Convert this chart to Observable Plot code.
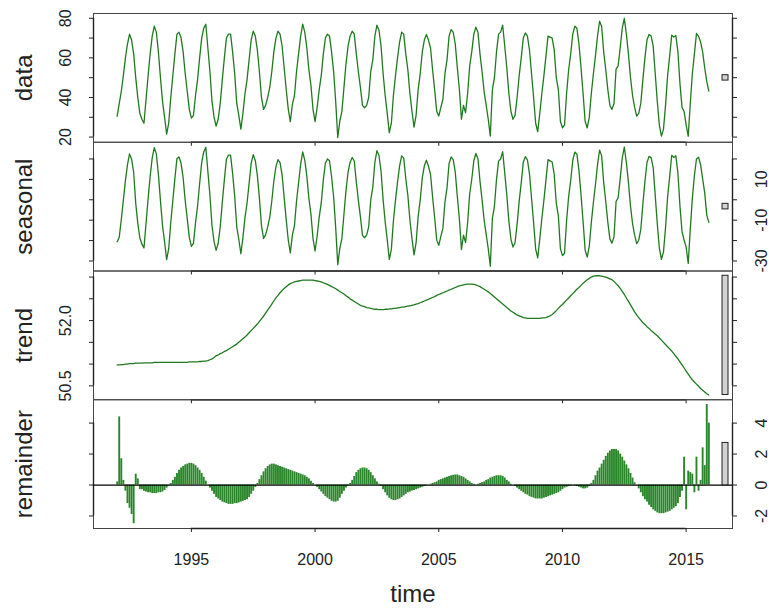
<!DOCTYPE html>
<html><head><meta charset="utf-8">
<script src="https://cdn.jsdelivr.net/npm/d3@7"></script>
<script src="https://cdn.jsdelivr.net/npm/@observablehq/plot@0.6"></script>
<style>
html,body{margin:0;padding:0;background:#fff;}
#chart{position:relative;width:769px;height:608px;overflow:hidden;background:#fff;}
#chart svg{position:absolute;left:0;top:0;}
</style></head><body><div id="chart"></div>
<script>
// monthly series, Jan 1992 .. Dec 2015 (one row per year)
const startYear = 1992;
const dataValues = [
  30.6, 37, 43, 51, 60, 67, 72, 69, 62, 50, 40, 32,
  29, 27, 39, 51, 62, 71, 76, 73, 63, 50, 38, 30,
  21.5, 27, 40, 51, 62, 72, 73, 70, 63, 52, 43, 34,
  29.6, 31, 41, 49, 60, 70, 75, 77, 65, 53, 38, 30,
  25.6, 29, 37, 49, 60, 70, 72, 72, 63, 52, 37, 31,
  24, 32, 42, 49, 59, 69, 73.5, 71, 64, 53, 40, 34,
  36, 40, 45, 53, 63, 70, 73.5, 72, 66, 55, 44, 34,
  27.8, 36.6, 41, 53, 62, 71, 77, 73, 65, 54, 46, 34,
  27.8, 35, 44, 51, 62, 70, 72, 71, 63, 53, 38, 19.8,
  28, 33, 45, 57, 66, 71, 73.5, 72, 62, 53, 45, 36,
  34.8, 36, 40, 53, 59, 71, 76.5, 74, 66, 52, 41, 32,
  22.2, 27, 41, 51, 60, 68, 73, 72, 62, 54, 42, 33,
  25, 31, 44, 52, 63, 69, 71.8, 69, 65, 54, 44, 33,
  30.6, 35, 39, 52, 59, 71, 74.3, 73, 67, 55, 44, 29,
  36, 32.3, 42, 56, 63, 72, 75.5, 73, 62, 53, 43, 36,
  29, 20.5, 44, 50, 63, 72, 73, 76.5, 66, 55, 42, 33,
  29, 31, 40, 51, 60, 70, 72.6, 71, 64, 52, 40, 27,
  22.7, 32, 42, 51, 61, 71, 70.5, 70, 64, 50, 44, 28,
  24.7, 26, 42, 54, 62, 72, 76, 75, 67, 55, 42, 28,
  24.6, 30, 42, 52, 61, 71, 78.5, 76, 63, 54, 44, 36,
  34, 37, 54.3, 56, 65, 75, 80, 72, 62, 50, 41, 35,
  30.6, 32, 37, 49, 60, 69, 71.8, 71, 66, 52, 38, 26,
  20.5, 24, 36, 51, 61, 71.5, 70.5, 71.3, 63, 47, 35, 33,
  26, 20.5, 37, 52, 62, 72.3, 71, 68, 63, 55, 48, 43.2
];
const trendValues = [
  50.98, 50.98, 50.99, 50.99, 51.00, 51.00, 51.01, 51.01, 51.01, 51.02, 51.02, 51.02,
  51.02, 51.03, 51.03, 51.03, 51.03, 51.03, 51.04, 51.04, 51.04, 51.04, 51.04, 51.04,
  51.04, 51.04, 51.04, 51.04, 51.04, 51.04, 51.04, 51.04, 51.04, 51.04, 51.04, 51.05,
  51.05, 51.05, 51.05, 51.05, 51.06, 51.06, 51.07, 51.07, 51.08, 51.10, 51.12, 51.15,
  51.19, 51.21, 51.24, 51.26, 51.29, 51.31, 51.34, 51.37, 51.40, 51.43, 51.46, 51.50,
  51.54, 51.58, 51.62, 51.67, 51.72, 51.77, 51.82, 51.87, 51.92, 51.98, 52.04, 52.10,
  52.17, 52.24, 52.31, 52.38, 52.45, 52.52, 52.58, 52.64, 52.69, 52.74, 52.78, 52.82,
  52.85, 52.87, 52.89, 52.90, 52.91, 52.92, 52.93, 52.93, 52.93, 52.93, 52.93, 52.93,
  52.92, 52.91, 52.90, 52.89, 52.87, 52.85, 52.83, 52.81, 52.78, 52.76, 52.73, 52.70,
  52.67, 52.64, 52.61, 52.57, 52.54, 52.50, 52.47, 52.44, 52.41, 52.38, 52.35, 52.33,
  52.32, 52.30, 52.29, 52.28, 52.27, 52.26, 52.26, 52.25, 52.25, 52.25, 52.26, 52.26,
  52.27, 52.27, 52.28, 52.28, 52.29, 52.30, 52.31, 52.31, 52.32, 52.33, 52.34, 52.35,
  52.36, 52.38, 52.39, 52.41, 52.43, 52.45, 52.47, 52.49, 52.51, 52.53, 52.55, 52.58,
  52.60, 52.62, 52.64, 52.66, 52.68, 52.70, 52.72, 52.74, 52.76, 52.78, 52.80, 52.81,
  52.82, 52.83, 52.84, 52.84, 52.84, 52.83, 52.82, 52.80, 52.78, 52.75, 52.72, 52.69,
  52.66, 52.62, 52.58, 52.54, 52.50, 52.46, 52.42, 52.38, 52.34, 52.30, 52.26, 52.22,
  52.19, 52.16, 52.13, 52.11, 52.09, 52.07, 52.06, 52.05, 52.05, 52.05, 52.05, 52.05,
  52.05, 52.05, 52.06, 52.06, 52.07, 52.09, 52.11, 52.14, 52.18, 52.23, 52.28, 52.33,
  52.37, 52.42, 52.47, 52.52, 52.57, 52.62, 52.67, 52.72, 52.76, 52.81, 52.86, 52.90,
  52.94, 52.97, 53.00, 53.02, 53.03, 53.03, 53.03, 53.02, 53.01, 53.00, 52.98, 52.96,
  52.94, 52.90, 52.85, 52.80, 52.74, 52.67, 52.60, 52.52, 52.44, 52.36, 52.28, 52.20,
  52.13, 52.07, 52.01, 51.95, 51.91, 51.86, 51.82, 51.77, 51.73, 51.69, 51.65, 51.60,
  51.55, 51.50, 51.45, 51.40, 51.35, 51.30, 51.24, 51.18, 51.12, 51.05, 50.98, 50.91,
  50.84, 50.77, 50.70, 50.64, 50.59, 50.54, 50.49, 50.44, 50.40, 50.36, 50.32, 50.29
];
const remainderValues = [
  0.2, 4.4, 1.7, 0.3, -0.4, -1.2, -1.5, -1.9, -2.5, 0.7, 0.4, -0.3,
  -0.3, -0.4, -0.45, -0.5, -0.5, -0.55, -0.55, -0.55, -0.5, -0.5, -0.45, -0.35,
  -0.2, -0.05, 0.1, 0.3, 0.5, 0.75, 0.95, 1.1, 1.2, 1.3, 1.35, 1.4,
  1.4, 1.35, 1.25, 1.1, 0.95, 0.75, 0.5, 0.25, 0.0, -0.2, -0.4, -0.6,
  -0.8, -0.9, -1.0, -1.1, -1.15, -1.2, -1.25, -1.25, -1.25, -1.2, -1.2, -1.15,
  -1.1, -1.05, -1.0, -0.95, -0.8, -0.6, -0.4, -0.15, 0.1, 0.35, 0.6, 0.85,
  1.05, 1.2, 1.3, 1.35, 1.35, 1.3, 1.25, 1.2, 1.15, 1.1, 1.05, 1.0,
  0.95, 0.9, 0.85, 0.8, 0.75, 0.7, 0.65, 0.6, 0.5, 0.4, 0.25, 0.1,
  0.0, -0.15, -0.3, -0.45, -0.6, -0.75, -0.85, -0.95, -1.05, -1.1, -1.1, -1.05,
  -0.85, -0.6, -0.4, -0.2, -0.05, 0.1, 0.3, 0.55, 0.8, 0.95, 1.05, 1.1,
  1.1, 1.05, 0.95, 0.8, 0.6, 0.4, 0.2, 0.05, -0.1, -0.3, -0.5, -0.7,
  -0.85, -0.95, -1.0, -1.0, -0.95, -0.9, -0.8, -0.7, -0.6, -0.5, -0.45, -0.38,
  -0.35, -0.3, -0.25, -0.2, -0.15, -0.1, -0.05, 0.0, 0.05, 0.1, 0.15, 0.2,
  0.3, 0.35, 0.4, 0.45, 0.5, 0.55, 0.6, 0.63, 0.65, 0.65, 0.6, 0.55,
  0.5, 0.4, 0.3, 0.2, 0.1, 0.05, 0.0, 0.05, 0.1, 0.15, 0.2, 0.3,
  0.35, 0.45, 0.5, 0.55, 0.6, 0.6, 0.6, 0.55, 0.45, 0.3, 0.2, 0.05,
  0.0, -0.1, -0.2, -0.3, -0.4, -0.5, -0.6, -0.65, -0.75, -0.8, -0.85, -0.9,
  -0.9, -0.9, -0.9, -0.85, -0.8, -0.75, -0.7, -0.65, -0.6, -0.55, -0.5, -0.4,
  -0.3, -0.2, -0.15, -0.1, -0.05, 0.0, -0.05, -0.1, -0.15, -0.2, -0.25, -0.25,
  -0.2, -0.1, 0.1, 0.3, 0.6, 0.9, 1.1, 1.35, 1.6, 1.85, 2.05, 2.2,
  2.3, 2.3, 2.3, 2.2, 2.0, 1.8, 1.55, 1.3, 1.05, 0.75, 0.45, 0.15,
  0.0, -0.25, -0.5, -0.75, -0.95, -1.1, -1.3, -1.45, -1.6, -1.7, -1.8, -1.85,
  -1.85, -1.85, -1.8, -1.75, -1.7, -1.6, -1.5, -1.4, -1.2, -0.8, -0.4, 1.8,
  -1.6, 0.9, 0.8, 0.7, -0.5, 1.8, -0.4, 0.3, 2.4, 1.25, 5.2, 4.0
];
const panelLabels = ["data", "seasonal", "trend", "remainder"];
const xTitle = "time";
const xTicks = [1995, 2000, 2005, 2010, 2015];
const dataTicks = [20, 30, 40, 50, 60, 70, 80];
const dataTickLabels = ["20", "", "40", "", "60", "", "80"];
const seasonalTicks = [-30, -20, -10, 0, 10, 20];
const seasonalTickLabels = ["-30", "", "-10", "", "10", ""];
const trendTicks = [50.5, 51, 51.5, 52, 52.5, 53];
const trendTickLabels = ["50.5", "", "", "52.0", "", ""];
const remainderTicks = [-2, 0, 2, 4];
const remainderTickLabels = ["-2", "0", "2", "4"];

// ---- build table (STL: data = seasonal + trend + remainder) ----
const rows = dataValues.map((v, i) => ({
  t: startYear + i / 12,
  data: v,
  trend: trendValues[i],
  remainder: remainderValues[i],
  seasonal: v - trendValues[i] - remainderValues[i]
}));

const FONT = "'Liberation Sans', Arial, Helvetica, sans-serif";
const GREEN = "#1f7a1f";
const W = 769, H = 608;
const ML = 93, MR = 37, TOP = 13, BOTTOM = 528;
const bandH = (BOTTOM - TOP) / 4;

const tExt = d3.extent(rows, d => d.t);
const tPad = 0.04 * (tExt[1] - tExt[0]);
const xDomain = [tExt[0] - tPad, tExt[1] + tPad];

const keys = ["data", "seasonal", "trend", "remainder"];
const ranges = keys.map(k => d3.extent(rows, d => d[k]));
const minRange = d3.min(ranges, r => r[1] - r[0]);

const panelTicks = [
  [dataTicks, dataTickLabels, "left"],
  [seasonalTicks, seasonalTickLabels, "right"],
  [trendTicks, trendTickLabels, "left"],
  [remainderTicks, remainderTickLabels, "right"]
];

const chart = document.getElementById("chart");
keys.forEach((key, i) => {
  const top = TOP + i * bandH, bottom = TOP + (i + 1) * bandH;
  const [lo, hi] = ranges[i];
  const pad = 0.04 * (hi - lo);
  const yDomain = [lo - pad, hi + pad];
  const [ticks, labels, side] = panelTicks[i];
  const labelOf = d => labels[ticks.indexOf(d)] ?? "";
  const last = i === keys.length - 1;
  const dx = (xDomain[1] - xDomain[0]) / 64;
  const mid = (lo + hi) / 2;
  const bar = {x1: xDomain[1] - dx, x2: xDomain[1] - 0.4 * dx, y1: mid - minRange / 2, y2: mid + minRange / 2};

  const marks = [
    Plot.frame({stroke: "#444", strokeWidth: 1}),
    Plot.axisY(ticks, {anchor: "left", tickSize: 4, tickPadding: 19, tickRotate: -90, fontSize: 16,
      stroke: "#222", fill: "#222", label: null,
      tickFormat: d => side === "left" ? labelOf(d) : ""}),
    Plot.axisY(ticks, {anchor: "right", tickSize: 4, tickPadding: 30, tickRotate: -90, fontSize: 16,
      stroke: "#222", fill: "#222", label: null,
      tickFormat: d => side === "right" ? labelOf(d) : ""}),
    Plot.axisX(xTicks, {anchor: "bottom", tickSize: 4, tickPadding: 21, fontSize: 16,
      stroke: "#222", fill: "#222", label: null,
      tickFormat: d => last ? String(d) : ""}),
    Plot.ruleX([xDomain[0]], {y1: ticks[0], y2: ticks[ticks.length - 1], stroke: "#222", strokeWidth: 1.4}),
    Plot.ruleX([xDomain[1]], {y1: ticks[0], y2: ticks[ticks.length - 1], stroke: "#222", strokeWidth: 1.4}),
    Plot.ruleY([yDomain[0]], {x1: xTicks[0], x2: xTicks[xTicks.length - 1], stroke: "#222", strokeWidth: 1.4})
  ];
  if (last) {
    marks.push(Plot.ruleX(rows, {x: "t", y1: 0, y2: key, stroke: "#2a862a", strokeWidth: 1.9}));
    marks.push(Plot.ruleY([0], {stroke: "#000", strokeWidth: 1.2}));
    marks.push(Plot.text([xTitle], {text: d => d, frameAnchor: "bottom", dy: 73, fontSize: 24,
      lineAnchor: "bottom", fill: "#222"}));
  } else {
    marks.push(Plot.line(rows, {x: "t", y: key, stroke: GREEN, strokeWidth: 1.3}));
  }
  marks.push(Plot.rect([bar], {x1: "x1", x2: "x2", y1: "y1", y2: "y2", fill: "#d3d3d3", stroke: "#222", strokeWidth: 1}));
  marks.push(Plot.text([panelLabels[i]], {text: d => d, frameAnchor: "left", dx: -62, rotate: -90,
    fontSize: 24, lineAnchor: "bottom", textAnchor: "middle", fill: "#222"}));

  const svg = Plot.plot({
    width: W, height: H,
    marginLeft: ML, marginRight: MR, marginTop: top, marginBottom: H - bottom,
    x: {domain: xDomain},
    y: {domain: yDomain},
    style: {background: "transparent", fontFamily: FONT, color: "#222", overflow: "visible"},
    marks
  });
  chart.appendChild(svg);
});
</script></body></html>
